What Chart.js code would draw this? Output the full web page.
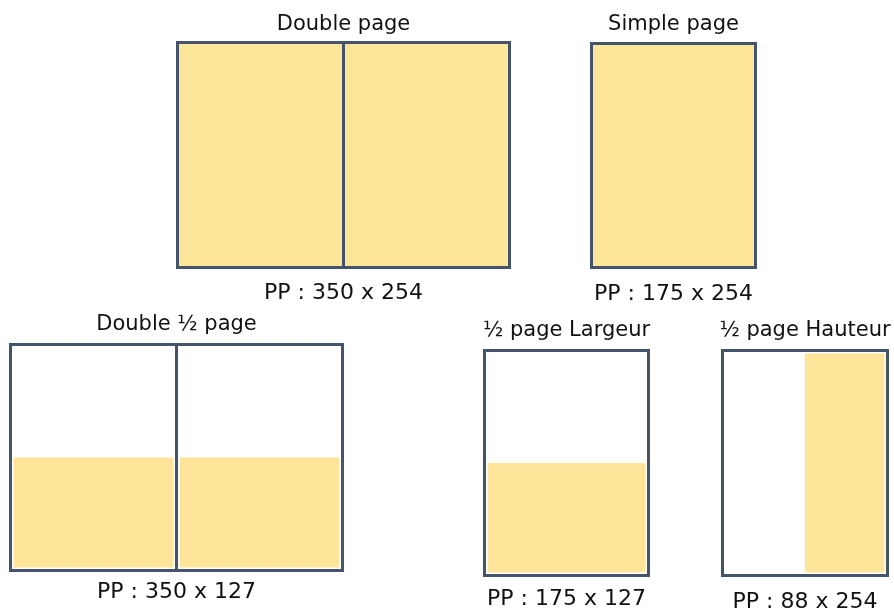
<!DOCTYPE html>
<html>
<head>
<meta charset="utf-8">
<script src="https://cdn.jsdelivr.net/npm/chart.js@4/dist/chart.umd.min.js"></script>
<style>
  html, body { margin: 0; padding: 0; background: #fff; overflow: hidden; }
  body { width: 894px; height: 609px; position: relative; }
  .panel { position: absolute; }
</style>
</head>
<body>
<script>
// Ad formats (mm): name, pages in the spread, ad width x height
var formats = ['Double page', 'Simple page', 'Double ½ page', '½ page Largeur', '½ page Hauteur'];
var pageCount = [2, 1, 2, 1, 1];
var pageWidth = [175, 175, 175, 175, 175];
var pageHeight = [254, 254, 254, 254, 254];
var adWidth = [350, 175, 350, 175, 88];
var adHeight = [254, 254, 127, 127, 254];

// Where each panel sits on the page (frame line centres, title / label centres), px
var layout = [
    { left: 177.5, right: 509.5, top: 42.5, bottom: 267.5, title: 24.5, label: 293.5, halo: false },
    { left: 591.5, right: 755.5, top: 43.5, bottom: 267.5, title: 24.5, label: 294.5, halo: false },
    { left: 10.5, right: 342.5, top: 344.5, bottom: 570.5, title: 324.5, label: 592.5, halo: true },
    { left: 484.5, right: 648.5, top: 350.5, bottom: 575.5, title: 331, label: 599.5, halo: true },
    { left: 722.5, right: 887.5, top: 350.5, bottom: 575.5, title: 331, label: 602.5, halo: true }
];

var FRAME_COLOR = '#44546A';
var AD_COLOR = '#FFE599';
var TITLE_SIZE = 21;
var LABEL_SIZE = 22;
var MARGIN_X = 14;   // px of empty room left/right of the frame (titles can be wider)
var PAD_Y = 3;

function buildPanel(i) {
    var L = layout[i];
    var spreadW = pageWidth[i] * pageCount[i];
    var pageH = pageHeight[i];
    var titleH = TITLE_SIZE * 1.2;
    var labelH = LABEL_SIZE * 1.2;

    // canvas box around the frame
    var cTop = Math.floor(L.title - titleH / 2 - PAD_Y);
    var cBottom = Math.ceil(L.label + labelH / 2 + PAD_Y);
    var cLeft = Math.floor(L.left - MARGIN_X);
    var cRight = Math.ceil(L.right + MARGIN_X);

    var div = document.createElement('div');
    div.className = 'panel';
    div.style.left = cLeft + 'px';
    div.style.top = cTop + 'px';
    div.style.width = (cRight - cLeft) + 'px';
    div.style.height = (cBottom - cTop) + 'px';
    var canvas = document.createElement('canvas');
    div.appendChild(canvas);
    document.body.appendChild(div);

    var titleGap = L.top - L.title - titleH / 2;
    var labelGap = L.label - L.bottom - labelH / 2;
    var padTop = L.title - titleH / 2 - cTop;
    var padBottom = cBottom - (L.label + labelH / 2);

    // x scale runs past the spread so the chart area fills the canvas width
    var pxPerMm = (L.right - L.left) / spreadW;
    var xMin = -(L.left - cLeft) / pxPerMm;
    var xMax = spreadW + (cRight - L.right) / pxPerMm;

    // page outline and folds
    var frame = [
        { x: 0, y: 0 }, { x: spreadW, y: 0 }, { x: spreadW, y: pageH },
        { x: 0, y: pageH }, { x: 0, y: 0 }
    ];
    var folds = [];
    for (var p = 1; p < pageCount[i]; p++) {
        if (folds.length) folds.push({ x: pageWidth[i] * p, y: null });
        folds.push({ x: pageWidth[i] * p, y: 0 });
        folds.push({ x: pageWidth[i] * p, y: pageH });
    }

    // ad area: anchored bottom-right of the spread
    var adLeft = spreadW - adWidth[i];
    var ad = [{ x: adLeft, y: adHeight[i] }, { x: spreadW, y: adHeight[i] }];

    function lineStyle(color, width) {
        return {
            showLine: true,
            borderColor: color,
            borderWidth: width,
            borderJoinStyle: 'miter',
            borderCapStyle: 'square',
            pointRadius: 0,
            fill: false,
            clip: false,
            tension: 0
        };
    }

    var datasets = [
        Object.assign({ label: 'frame', data: frame, order: 0 }, lineStyle(FRAME_COLOR, 3)),
        Object.assign({ label: 'fold', data: folds, order: 1 }, lineStyle(FRAME_COLOR, 3))
    ];
    if (L.halo) {
        // thin white margin between the ad area and the page lines
        datasets.push(Object.assign({ label: 'frame halo', data: frame, order: 2 }, lineStyle('#ffffff', 6)));
        datasets.push(Object.assign({ label: 'fold halo', data: folds, order: 3 }, lineStyle('#ffffff', 6)));
    }
    datasets.push({
        label: 'ad',
        data: ad,
        order: 4,
        showLine: true,
        borderWidth: 0,
        borderColor: AD_COLOR,
        backgroundColor: AD_COLOR,
        pointRadius: 0,
        fill: 'origin'
    });

    new Chart(canvas.getContext('2d'), {
        type: 'scatter',
        data: { datasets: datasets },
        options: {
            responsive: true,
            maintainAspectRatio: false,
            animation: false,
            events: [],
            layout: {
                padding: { left: 0, right: 0, top: padTop, bottom: padBottom }
            },
            scales: {
                x: { type: 'linear', min: xMin, max: xMax, display: false },
                y: { type: 'linear', min: 0, max: pageH, display: false }
            },
            plugins: {
                legend: { display: false },
                tooltip: { enabled: false },
                title: {
                    display: true,
                    text: formats[i],
                    color: '#111',
                    font: { family: 'DejaVu Sans', size: TITLE_SIZE, weight: 'normal', lineHeight: 1.2 },
                    padding: { top: 0, bottom: titleGap }
                },
                subtitle: {
                    display: true,
                    position: 'bottom',
                    text: 'PP : ' + adWidth[i] + ' x ' + adHeight[i],
                    color: '#111',
                    font: { family: 'DejaVu Sans', size: LABEL_SIZE, weight: 'normal', lineHeight: 1.2 },
                    padding: { top: labelGap, bottom: 0 }
                }
            }
        }
    });
}

for (var i = 0; i < formats.length; i++) {
    buildPanel(i);
}
</script>
</body>
</html>
